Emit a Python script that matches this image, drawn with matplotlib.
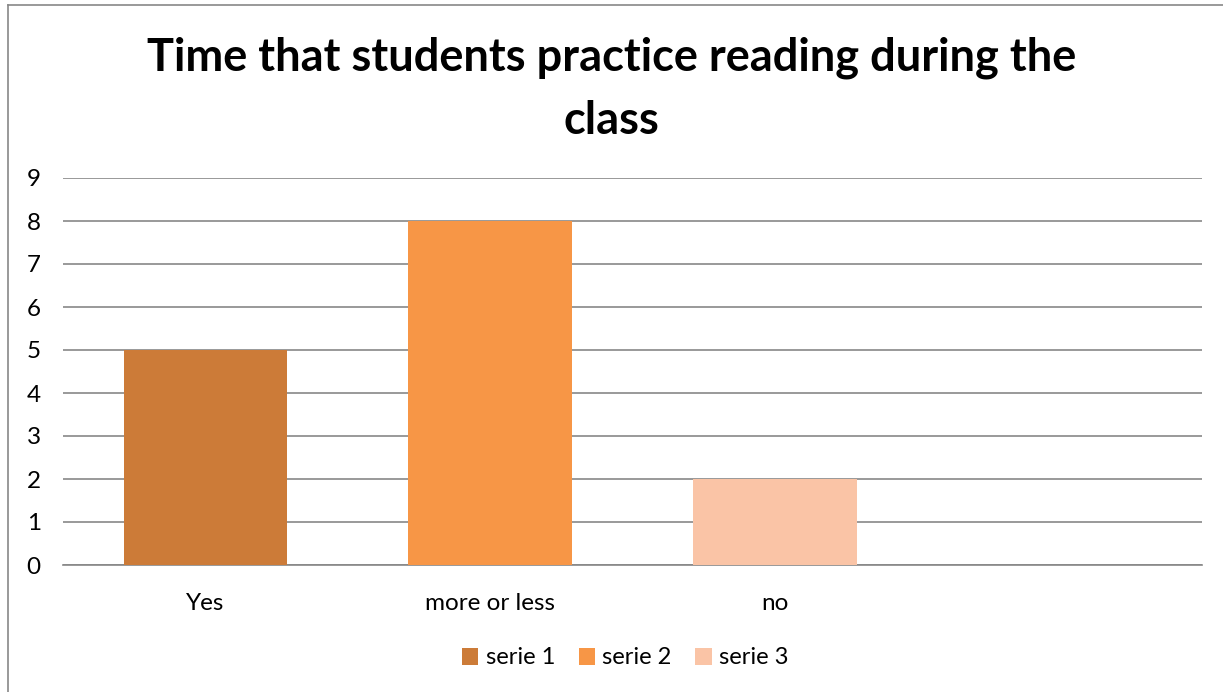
import matplotlib
matplotlib.use("Agg")
import matplotlib.pyplot as plt
from matplotlib.patches import Patch
from matplotlib.lines import Line2D

categories = ["Yes", "more or less", "no", ""]
series_names = ["serie 1", "serie 2", "serie 3"]
serie1 = [5, 0, 0, 0]
serie2 = [0, 8, 0, 0]
serie3 = [0, 0, 2, 0]
colors = ["#CC7B38", "#F79646", "#FAC4A6"]
title = "Time that students practice reading during the\nclass"

plt.rcParams['font.family'] = ['Lato', 'DejaVu Sans']

fig = plt.figure(figsize=(12.23, 6.92), dpi=100)
ax = fig.add_axes([63/1223, 1-565/692, (1202-63)/1223, (565-178)/692])

x = list(range(len(categories)))
bottom = [0]*len(categories)
for vals, c, name in zip([serie1, serie2, serie3], colors, series_names):
    ax.bar(x, vals, width=0.574, bottom=bottom, color=c, label=name, zorder=3)
    bottom = [b+v for b, v in zip(bottom, vals)]

ax.set_xlim(-0.5, len(categories)-0.5)
ax.set_ylim(0, 9)
ax.set_yticks(range(0, 10))
ax.yaxis.grid(True, color="#878787", linewidth=1.2, zorder=0)
ax.set_axisbelow(True)
for s in ["top", "right", "left"]:
    ax.spines[s].set_visible(False)
ax.spines["bottom"].set_color("#878787")
ax.spines["bottom"].set_linewidth(1.2)
ax.tick_params(axis="both", length=0, labelsize=17.5, colors="black")
ax.tick_params(axis="y", pad=16)
ax.tick_params(axis="x", pad=20)
ax.set_xticks(x)
ax.set_xticklabels(categories)

fig.text(0.5, 1-89/692, title, ha="center", va="center", fontsize=32.5,
         fontweight="bold", linespacing=1.62)

handles = [Patch(facecolor=c, label=n) for c, n in zip(colors, series_names)]
fig.legend(handles=handles, loc="center", bbox_to_anchor=(625/1223, 1-658/692),
           ncol=3, frameon=False, fontsize=17, handlelength=0.7, handleheight=0.7,
           handletextpad=0.3, columnspacing=1.0)

# outer chart frame (left and top edges visible)
fig.add_artist(Line2D([8/1223, 8/1223], [0, 1-5/692], transform=fig.transFigure,
                      color="#878787", linewidth=1.2))
fig.add_artist(Line2D([8/1223, 1], [1-5/692, 1-5/692], transform=fig.transFigure,
                      color="#878787", linewidth=1.2))

fig.savefig("out.png", dpi=100)
